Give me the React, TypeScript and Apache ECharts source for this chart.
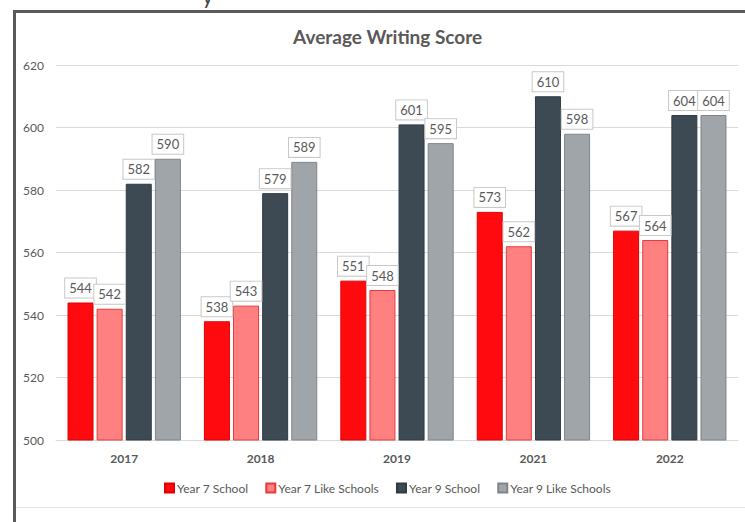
import React, { useEffect, useRef } from "react";
import * as echarts from "echarts";

const categories = ["2017", "2018", "2019", "2021", "2022"];
const seriesNames = ["Year 7 School", "Year 7 Like Schools", "Year 9 School", "Year 9 Like Schools"];
const year7School = [544, 538, 551, 573, 567];
const year7Like = [542, 543, 548, 562, 564];
const year9School = [582, 579, 601, 610, 604];
const year9Like = [590, 589, 595, 598, 604];
const yTicks = { min: 500, max: 620, interval: 20 };

const FONT = "Lato, 'Open Sans', sans-serif";
const TEXT = "#595959";

export default function App() {
  const ref = useRef<HTMLDivElement>(null);
  useEffect(() => {
    document.body.style.margin = "0";
    const chart = echarts.init(ref.current!, null, { renderer: "svg" });
    const styles = [
      { color: "#ff0a0f", borderColor: "#e00000" },
      { color: "#ff8080", borderColor: "#e83a3a" },
      { color: "#3d4a53", borderColor: "#2f3a42" },
      { color: "#a0a5aa", borderColor: "#7f858b" },
    ];
    const values = [year7School, year7Like, year9School, year9Like];
    const series = seriesNames.map((name, i) => ({
      name,
      type: "bar",
      data: values[i],
      barWidth: 26,
      barGap: "12%",
      itemStyle: { color: styles[i].color, borderColor: styles[i].borderColor, borderWidth: 1 },
      label: {
        show: true,
        position: "top",
        distance: 5,
        color: TEXT,
        fontSize: 13,
        fontFamily: FONT,
        backgroundColor: "#ffffff",
        borderColor: "#c8c8c8",
        borderWidth: 1,
        padding: [3, 4, 3, 4],
      },
    }));
    chart.setOption({
      animation: false,
      backgroundColor: "#ffffff",
      textStyle: { fontFamily: FONT },
      title: {
        text: "Average Writing Score",
        left: 288,
        top: 22,
        textStyle: { fontSize: 19, fontWeight: "bold", color: TEXT, fontFamily: FONT },
      },
      legend: {
        data: seriesNames,
        top: 477,
        left: 159,
        itemWidth: 9,
        itemHeight: 9,
        itemGap: 17,
        icon: "rect",
        textStyle: { fontSize: 12, color: TEXT, fontFamily: FONT, padding: [0, 0, 0, -2] },
      },
      grid: { left: 56, right: 7, top: 65, bottom: 82 },
      xAxis: {
        type: "category",
        data: categories,
        axisLine: { lineStyle: { color: "#d9d9d9" } },
        axisTick: { show: false },
        axisLabel: { color: TEXT, fontWeight: "bold", fontSize: 12, margin: 12, fontFamily: FONT },
      },
      yAxis: {
        type: "value",
        min: yTicks.min,
        max: yTicks.max,
        interval: yTicks.interval,
        axisLine: { show: false },
        axisTick: { show: false },
        axisLabel: { color: TEXT, fontSize: 12, margin: 12, fontFamily: FONT },
        splitLine: { lineStyle: { color: "#d9d9d9" } },
      },
      graphic: [
        { type: "rect", shape: { x: 13, y: 10, width: 740, height: 3 }, style: { fill: "#5a5a5a" }, z: 100 },
        { type: "rect", shape: { x: 13, y: 10, width: 3, height: 520 }, style: { fill: "#5a5a5a" }, z: 100 },
        { type: "rect", shape: { x: 16, y: 507, width: 740, height: 1 }, style: { fill: "#e3e3e3" }, z: 100 },
        { type: "text", x: 202, y: -16, style: { text: "y", fontSize: 22, fill: "#444444", fontFamily: FONT, verticalAlign: "top" }, z: 100 },
      ],
      series,
    });
    return () => chart.dispose();
  }, []);
  return <div ref={ref} style={{ width: 745, height: 522 }} />;
}
